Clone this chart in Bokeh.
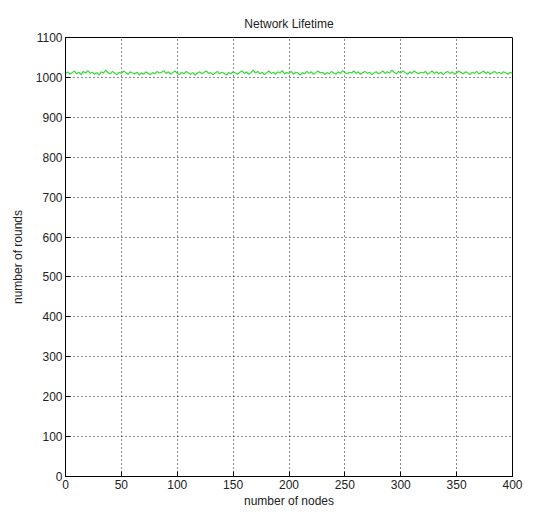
from bokeh.plotting import figure
from bokeh.embed import file_html
from bokeh.resources import INLINE
from bokeh.models import FixedTicker, Range1d

nodes = list(range(0, 401, 2))
rounds = [1010,1014,1008,1012,1016,1009,1013,1007,1015,1011,1017,1010,1013,1008,1012,1006,1014,1011,1018,1012,
          1009,1015,1011,1007,1013,1010,1016,1012,1008,1014,1011,1009,1013,1006,1011,1008,1014,1010,1007,1012,
          1009,1015,1011,1013,1017,1010,1014,1008,1012,1016,1010,1007,1013,1009,1015,1011,1008,1012,1006,1011,
          1014,1009,1013,1016,1010,1012,1007,1011,1015,1009,1013,1010,1006,1012,1009,1014,1011,1008,1013,1016,
          1010,1014,1008,1012,1018,1011,1015,1009,1013,1007,1012,1016,1010,1013,1008,1014,1011,1017,1009,1012,
          1010,1015,1008,1013,1011,1006,1012,1009,1015,1010,1014,1008,1012,1016,1011,1013,1007,1012,1009,1015,
          1011,1008,1014,1010,1017,1012,1009,1013,1011,1016,1010,1014,1008,1012,1015,1010,1013,1007,1011,1014,
          1009,1012,1016,1010,1014,1011,1018,1013,1009,1015,1011,1017,1012,1008,1014,1010,1016,1012,1009,1013,
          1011,1015,1008,1012,1016,1010,1014,1009,1013,1007,1012,1015,1010,1014,1008,1011,1016,1012,1009,1014,
          1011,1007,1013,1010,1015,1009,1012,1016,1010,1014,1008,1012,1015,1010,1013,1009,1014,1011,1008,1013,
          1010]
x_ticks = [0, 50, 100, 150, 200, 250, 300, 350, 400]
y_ticks = [0, 100, 200, 300, 400, 500, 600, 700, 800, 900, 1000, 1100]

FONT = "Liberation Sans"

p = figure(frame_width=447, frame_height=439, output_backend="svg", toolbar_location=None,
           x_range=Range1d(0, 400), y_range=Range1d(0, 1100),
           min_border_left=65, min_border_right=20, min_border_top=37, min_border_bottom=37,
           title="Network Lifetime")
p.title.align = "center"
p.title.text_font = FONT
p.title.text_font_size = "12px"
p.title.text_font_style = "normal"
p.title.text_color = "#222222"
p.title.standoff = 14

p.line(nodes, rounds, line_color="#33dd33", line_width=1.2)

for ax in (p.xaxis[0], p.yaxis[0]):
    ax.major_tick_in = 5
    ax.major_tick_out = 0
    ax.minor_tick_in = 0
    ax.minor_tick_out = 0
    ax.axis_line_color = "black"
    ax.major_tick_line_color = "black"
    ax.major_label_text_font = FONT
    ax.major_label_text_font_size = "12px"
    ax.major_label_text_color = "#222222"
    ax.axis_label_text_font = FONT
    ax.axis_label_text_font_size = "12px"
    ax.axis_label_text_font_style = "normal"
    ax.axis_label_text_color = "#222222"
p.xaxis[0].ticker = FixedTicker(ticks=x_ticks)
p.yaxis[0].ticker = FixedTicker(ticks=y_ticks)
p.xaxis[0].axis_label = "number of nodes"
p.yaxis[0].axis_label = "number of rounds"
p.xaxis[0].major_label_standoff = 3
p.yaxis[0].major_label_standoff = 3
p.xaxis[0].axis_label_standoff = 2
p.yaxis[0].axis_label_standoff = 8

p.xgrid.ticker = FixedTicker(ticks=x_ticks)
p.ygrid.ticker = FixedTicker(ticks=y_ticks)
for g in (p.xgrid[0], p.ygrid[0]):
    g.grid_line_color = "black"
    g.grid_line_dash = "1 3"
    g.grid_line_width = 1
    g.grid_line_alpha = 0.9

p.outline_line_color = "black"
p.background_fill_color = "white"
p.border_fill_color = "white"

open("out.html", "w").write(file_html(p, INLINE))
